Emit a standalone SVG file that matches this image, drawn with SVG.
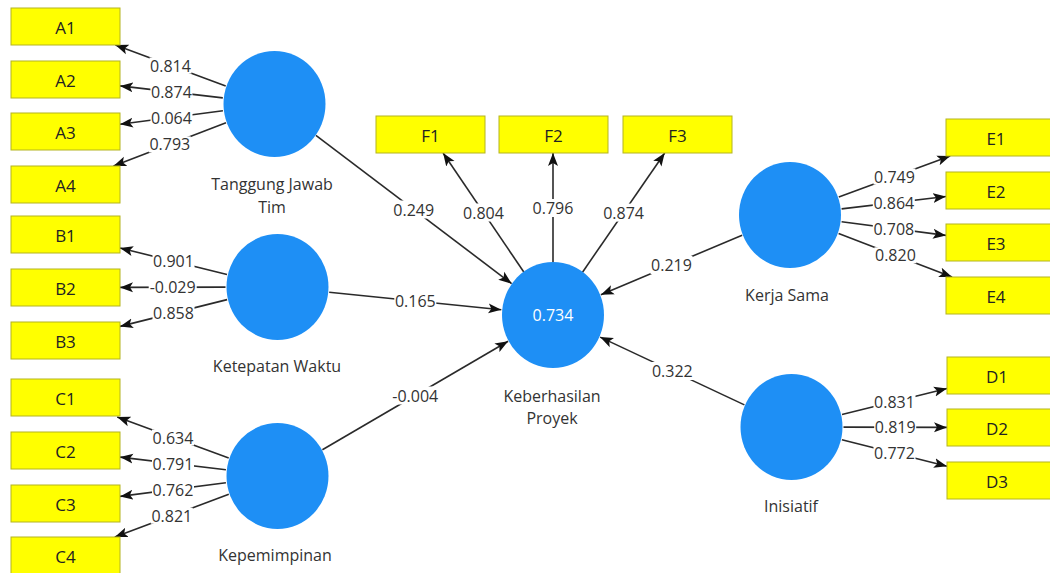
<svg xmlns="http://www.w3.org/2000/svg" width="1050" height="573" viewBox="0 0 1050 573">
<style>
.bg{fill:#ffffff}
.box{fill:#ffff00;stroke:#b4b420;stroke-width:1}
.bt{font-family:"Open Sans","Liberation Sans",sans-serif;font-size:17px;fill:#222;text-anchor:middle}
.lv{fill:#1e8ff5}
.lt{font-family:"Open Sans","Liberation Sans",sans-serif;font-size:16px;fill:#333;text-anchor:middle}
.ct{font-family:"Open Sans","Liberation Sans",sans-serif;font-size:16px;fill:#ffffff;text-anchor:middle}
.ln{stroke:#2a2a2a;stroke-width:1.6;fill:none;marker-end:url(#arr)}
.lb rect{fill:#ffffff}
.lb text{font-family:"Open Sans","Liberation Sans",sans-serif;font-size:16px;fill:#333;text-anchor:middle;dominant-baseline:central}
</style>
<defs>
<marker id="arr" markerWidth="14" markerHeight="11" refX="13" refY="5.5" orient="auto" markerUnits="userSpaceOnUse">
<path d="M0,0.5 L13,5.5 L0,10.5 L3,5.5 z" fill="#111"/>
</marker>
</defs>
<rect class="bg" x="0" y="0" width="1050" height="573"/>
<g id="connectors">
<path class="ln" d="M225.7,85.9 L115.4,45"/>
<path class="ln" d="M222.8,97.9 L120,85.9"/>
<path class="ln" d="M222.9,110.8 L120,124.3"/>
<path class="ln" d="M226,122.7 L113.5,166"/>
<path class="ln" d="M227,274.5 L120,248"/>
<path class="ln" d="M225.5,287.1 L120,287.4"/>
<path class="ln" d="M227.1,299.6 L120,326.4"/>
<path class="ln" d="M228.7,458 L117.2,417"/>
<path class="ln" d="M225.9,469.8 L120,457.1"/>
<path class="ln" d="M225.9,482.7 L120,496.4"/>
<path class="ln" d="M228.8,494.3 L114.8,537"/>
<path class="ln" d="M838.8,197 L950.2,156"/>
<path class="ln" d="M841.6,208.9 L946,196.5"/>
<path class="ln" d="M841.6,221.7 L946,235.4"/>
<path class="ln" d="M838.6,233.6 L952.1,277"/>
<path class="ln" d="M842,414.5 L947,388.5"/>
<path class="ln" d="M843.5,427.1 L947,427.4"/>
<path class="ln" d="M841.9,439.7 L947,466.2"/>
<path class="ln" d="M523.8,272 L443.1,153"/>
<path class="ln" d="M553,263 L553,153"/>
<path class="ln" d="M582.5,272.2 L664.7,153"/>
<path class="ln" d="M315.9,135.4 L511.6,283.6"/>
<path class="ln" d="M329.2,292.3 L501.3,309.7"/>
<path class="ln" d="M322.4,449.8 L508.1,341.2"/>
<path class="ln" d="M742.1,235.2 L600.9,294.8"/>
<path class="ln" d="M744.4,404.9 L600.1,337.1"/>
<g class="lb">
<rect x="149.5" y="57.5" width="42" height="16"/><text x="170.5" y="65.5">0.814</text>
<rect x="150.4" y="83.9" width="42" height="16"/><text x="171.4" y="91.9">0.874</text>
<rect x="150.5" y="109.5" width="42" height="16"/><text x="171.5" y="117.5">0.064</text>
<rect x="148.8" y="136.4" width="42" height="16"/><text x="169.8" y="144.4">0.793</text>
<rect x="152.5" y="253.2" width="42" height="16"/><text x="173.5" y="261.2">0.901</text>
<rect x="148.7" y="279.2" width="48" height="16"/><text x="172.7" y="287.2">-0.029</text>
<rect x="152.5" y="305" width="42" height="16"/><text x="173.5" y="313">0.858</text>
<rect x="152" y="429.5" width="42" height="16"/><text x="173" y="437.5">0.634</text>
<rect x="152" y="455.5" width="42" height="16"/><text x="173" y="463.5">0.791</text>
<rect x="152" y="481.6" width="42" height="16"/><text x="173" y="489.6">0.762</text>
<rect x="150.8" y="507.7" width="42" height="16"/><text x="171.8" y="515.7">0.821</text>
<rect x="873.5" y="168.5" width="42" height="16"/><text x="894.5" y="176.5">0.749</text>
<rect x="872.8" y="194.7" width="42" height="16"/><text x="893.8" y="202.7">0.864</text>
<rect x="872.8" y="220.6" width="42" height="16"/><text x="893.8" y="228.6">0.708</text>
<rect x="874.4" y="247.3" width="42" height="16"/><text x="895.4" y="255.3">0.820</text>
<rect x="873.5" y="393.5" width="42" height="16"/><text x="894.5" y="401.5">0.831</text>
<rect x="874.2" y="419.2" width="42" height="16"/><text x="895.2" y="427.2">0.819</text>
<rect x="873.5" y="445" width="42" height="16"/><text x="894.5" y="453">0.772</text>
<rect x="462.5" y="203.5" width="42" height="18"/><text x="483.5" y="212.5">0.804</text>
<rect x="532" y="199" width="42" height="18"/><text x="553" y="208">0.796</text>
<rect x="602.6" y="203.6" width="42" height="18"/><text x="623.6" y="212.6">0.874</text>
<rect x="392.7" y="200.5" width="42" height="18"/><text x="413.7" y="209.5">0.249</text>
<rect x="394.3" y="293" width="42" height="16"/><text x="415.3" y="301">0.165</text>
<rect x="391.3" y="386.5" width="48" height="18"/><text x="415.3" y="395.5">-0.004</text>
<rect x="650.5" y="256" width="42" height="18"/><text x="671.5" y="265">0.219</text>
<rect x="651.3" y="362" width="42" height="18"/><text x="672.3" y="371">0.322</text>
</g>
</g>
<g id="node-A1"><rect class="box" x="11" y="8" width="109" height="37"/><text class="bt" x="65.5" y="34">A1</text></g>
<g id="node-A2"><rect class="box" x="11" y="61" width="109" height="37"/><text class="bt" x="65.5" y="87">A2</text></g>
<g id="node-A3"><rect class="box" x="11" y="113" width="109" height="37"/><text class="bt" x="65.5" y="139">A3</text></g>
<g id="node-A4"><rect class="box" x="11" y="166" width="109" height="37"/><text class="bt" x="65.5" y="192">A4</text></g>
<g id="node-B1"><rect class="box" x="11" y="216" width="109" height="37"/><text class="bt" x="65.5" y="242">B1</text></g>
<g id="node-B2"><rect class="box" x="11" y="269" width="109" height="37"/><text class="bt" x="65.5" y="295">B2</text></g>
<g id="node-B3"><rect class="box" x="11" y="322" width="109" height="37"/><text class="bt" x="65.5" y="348">B3</text></g>
<g id="node-C1"><rect class="box" x="11" y="379" width="109" height="37"/><text class="bt" x="65.5" y="405">C1</text></g>
<g id="node-C2"><rect class="box" x="11" y="432" width="109" height="37"/><text class="bt" x="65.5" y="458">C2</text></g>
<g id="node-C3"><rect class="box" x="11" y="485" width="109" height="37"/><text class="bt" x="65.5" y="511">C3</text></g>
<g id="node-C4"><rect class="box" x="11" y="537" width="109" height="37"/><text class="bt" x="65.5" y="563">C4</text></g>
<g id="node-F1"><rect class="box" x="376" y="116" width="109" height="37"/><text class="bt" x="430.5" y="142">F1</text></g>
<g id="node-F2"><rect class="box" x="499" y="116" width="109" height="37"/><text class="bt" x="553.5" y="142">F2</text></g>
<g id="node-F3"><rect class="box" x="623" y="116" width="109" height="37"/><text class="bt" x="677.5" y="142">F3</text></g>
<g id="node-E1"><rect class="box" x="946" y="119" width="109" height="37"/><text class="bt" x="996" y="145">E1</text></g>
<g id="node-E2"><rect class="box" x="946" y="172" width="109" height="37"/><text class="bt" x="996" y="198">E2</text></g>
<g id="node-E3"><rect class="box" x="946" y="224" width="109" height="37"/><text class="bt" x="996" y="250">E3</text></g>
<g id="node-E4"><rect class="box" x="946" y="277" width="109" height="37"/><text class="bt" x="996" y="303">E4</text></g>
<g id="node-D1"><rect class="box" x="947" y="357" width="109" height="37"/><text class="bt" x="997" y="383">D1</text></g>
<g id="node-D2"><rect class="box" x="947" y="409" width="109" height="37"/><text class="bt" x="997" y="435">D2</text></g>
<g id="node-D3"><rect class="box" x="947" y="462" width="109" height="37"/><text class="bt" x="997" y="488">D3</text></g>
<g id="node-tanggung-jawab-tim"><ellipse class="lv" cx="274.5" cy="104" rx="51" ry="53"/><text class="lt" x="272" y="190">Tanggung Jawab</text><text class="lt" x="272" y="213">Tim</text></g>
<g id="node-ketepatan-waktu"><ellipse class="lv" cx="277.5" cy="287" rx="51" ry="53"/><text class="lt" x="277" y="372">Ketepatan Waktu</text></g>
<g id="node-kepemimpinan"><ellipse class="lv" cx="277.5" cy="476" rx="51" ry="53"/><text class="lt" x="275" y="561">Kepemimpinan</text></g>
<g id="node-keberhasilan-proyek"><ellipse class="lv" cx="553" cy="315" rx="51" ry="53"/><text class="ct" x="553" y="321">0.734</text><text class="lt" x="552" y="402">Keberhasilan</text><text class="lt" x="552" y="424">Proyek</text></g>
<g id="node-kerja-sama"><ellipse class="lv" cx="790" cy="215" rx="51" ry="53"/><text class="lt" x="787" y="301">Kerja Sama</text></g>
<g id="node-inisiatif"><ellipse class="lv" cx="791.5" cy="427" rx="51" ry="53"/><text class="lt" x="791" y="512">Inisiatif</text></g>
</svg>
